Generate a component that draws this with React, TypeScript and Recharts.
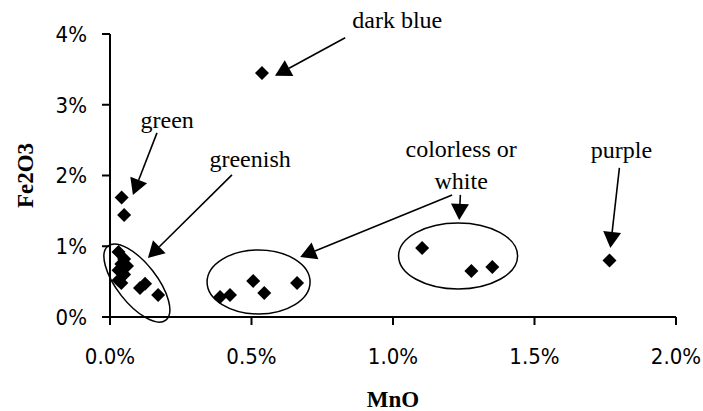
import React from "react"
import {
  ScatterChart,
  Scatter,
  XAxis,
  YAxis,
  ReferenceDot,
  ReferenceLine,
} from "recharts"

// values in % (MnO, Fe2O3)
const darkBlue = [[0.537, 3.45]]
const green = [[0.041, 1.69], [0.05, 1.44]]
const greenish = [
  [0.03, 0.92], [0.05, 0.82], [0.04, 0.75], [0.06, 0.72], [0.03, 0.66],
  [0.05, 0.6], [0.03, 0.52], [0.04, 0.48], [0.106, 0.41], [0.124, 0.47], [0.17, 0.31],
]
const colorlessLow = [[0.389, 0.283], [0.424, 0.31], [0.506, 0.51], [0.545, 0.34], [0.661, 0.48]]
const colorlessHigh = [[1.103, 0.976], [1.277, 0.65], [1.351, 0.707]]
const purple = [[1.765, 0.8]]

const xTicks = [0, 0.5, 1, 1.5, 2]
const yTicks = [0, 1, 2, 3, 4]

// annotations, in data units
const notes = [
  { text: "dark blue", x: 1.015, y: 4.088 },
  { text: "green", x: 0.202, y: 2.673 },
  { text: "greenish", x: 0.495, y: 2.122 },
  { text: "colorless or", x: 1.241, y: 2.263 },
  { text: "white", x: 1.241, y: 1.81 },
  { text: "purple", x: 1.807, y: 2.249 },
]
const arrows = [
  [0.831, 3.946, 0.583, 3.409],
  [0.166, 2.603, 0.081, 1.726],
  [0.431, 2.008, 0.134, 0.834],
  [1.238, 1.726, 1.234, 1.372],
  [1.209, 1.726, 0.672, 0.849],
  [1.8, 2.107, 1.768, 0.976],
]
const rings = [
  { x: 0.095, y: 0.48, rx: 47, ry: 20, rot: 52 },
  { x: 0.525, y: 0.495, rx: 51.5, ry: 32, rot: 0 },
  { x: 1.23, y: 0.863, rx: 59.5, ry: 33, rot: 0 },
]

const toRows = (pts: number[][]) => pts.map(([mno, fe]) => ({ mno, fe }))
const groups = [darkBlue, green, greenish, colorlessLow, colorlessHigh, purple]

const serif = "'Liberation Serif', 'Times New Roman', serif"
const sans = "'DejaVu Sans Condensed', 'DejaVu Sans', Tahoma, sans-serif"

const Diamond = (props: any) => {
  const { cx, cy } = props
  const r = 7
  return <polygon points={`${cx},${cy - r} ${cx + r},${cy} ${cx},${cy + r} ${cx - r},${cy}`} fill="#000" />
}

const Arrow = (props: any) => {
  const { x1, y1, x2, y2 } = props
  const dx = x2 - x1
  const dy = y2 - y1
  const len = Math.sqrt(dx * dx + dy * dy)
  const ux = dx / len
  const uy = dy / len
  const hl = 16
  const hw = 9
  const bx = x2 - ux * hl
  const by = y2 - uy * hl
  return (
    <g>
      <line x1={x1} y1={y1} x2={bx} y2={by} stroke="#000" strokeWidth={1.6} />
      <polygon
        points={`${x2},${y2} ${bx - uy * hw},${by + ux * hw} ${bx + uy * hw},${by - ux * hw}`}
        fill="#000"
      />
    </g>
  )
}

export default function App() {
  return (
    <div style={{ position: "absolute", left: 0, top: 0, background: "#fff" }}>
      <ScatterChart width={703} height={411} margin={{ top: 34, right: 27, left: 0, bottom: 0 }}>
        <XAxis
          type="number"
          dataKey="mno"
          domain={[0, 2]}
          ticks={xTicks}
          tickFormatter={(v) => `${v.toFixed(1)}%`}
          height={94}
          tickSize={8}
          tickMargin={23}
          axisLine={{ stroke: "#000", strokeWidth: 2 }}
          tickLine={{ stroke: "#000", strokeWidth: 2 }}
          tick={{ fill: "#000", fontSize: 22, fontFamily: sans }}
          label={{
            content: (p: any) => {
              const vb = p.viewBox
              return (
                <text x={vb.x + vb.width / 2} y={vb.y + 90} textAnchor="middle"
                  fontFamily={serif} fontWeight="bold" fontSize={23} fill="#000">MnO</text>
              )
            },
          }}
        />
        <YAxis
          type="number"
          dataKey="fe"
          domain={[0, 4]}
          ticks={yTicks}
          tickFormatter={(v) => `${v}%`}
          width={110}
          tickSize={8}
          tickMargin={15}
          axisLine={{ stroke: "#000", strokeWidth: 2 }}
          tickLine={{ stroke: "#000", strokeWidth: 2 }}
          tick={{ fill: "#000", fontSize: 22, fontFamily: sans }}
          label={{
            content: (p: any) => {
              const vb = p.viewBox
              const x = vb.x + 33
              const y = vb.y + vb.height / 2
              return (
                <text x={x} y={y} transform={`rotate(-90 ${x} ${y})`} textAnchor="middle"
                  fontFamily={serif} fontWeight="bold" fontSize={23} fill="#000">Fe2O3</text>
              )
            },
          }}
        />
        {groups.map((g, i) => (
          <Scatter key={i} data={toRows(g)} fill="#000" shape={Diamond} isAnimationActive={false} />
        ))}
        {rings.map((r, i) => (
          <ReferenceDot
            key={`ring-${i}`}
            x={r.x}
            y={r.y}
            ifOverflow="visible"
            shape={(p: any) => (
              <ellipse cx={p.cx} cy={p.cy} rx={r.rx} ry={r.ry}
                transform={`rotate(${r.rot} ${p.cx} ${p.cy})`}
                fill="none" stroke="#000" strokeWidth={1.5} />
            )}
          />
        ))}
        {arrows.map((a, i) => (
          <ReferenceLine
            key={`arrow-${i}`}
            segment={[{ x: a[0], y: a[1] }, { x: a[2], y: a[3] }]}
            ifOverflow="visible"
            shape={Arrow}
          />
        ))}
        {notes.map((n, i) => (
          <ReferenceDot
            key={`note-${i}`}
            x={n.x}
            y={n.y}
            ifOverflow="visible"
            shape={(p: any) => (
              <text x={p.cx} y={p.cy} textAnchor="middle" fontFamily={serif}
                fontSize={24} fill="#000">{n.text}</text>
            )}
          />
        ))}
      </ScatterChart>
    </div>
  )
}
